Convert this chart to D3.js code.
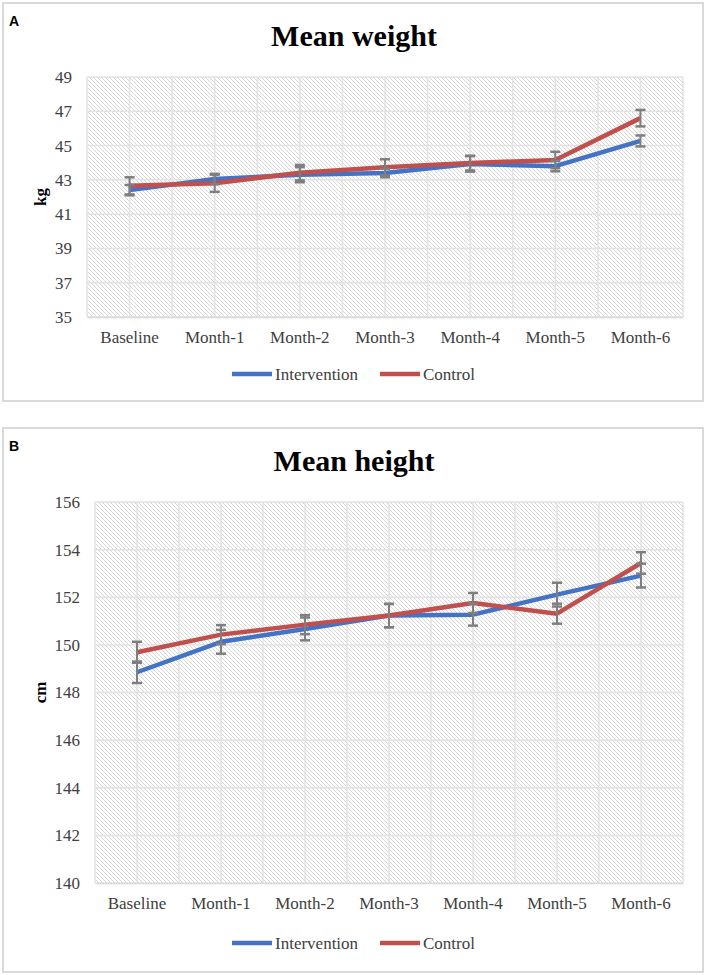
<!DOCTYPE html>
<html><head><meta charset="utf-8">
<script src="https://cdn.jsdelivr.net/npm/d3@7"></script>
<style>body{margin:0;background:#fff}svg{display:block}
.serif{font-family:"Liberation Serif","Times New Roman",serif !important}
</style>
</head><body>
<svg id="chart" width="708" height="975"></svg>
<script>
const categories = ["Baseline","Month-1","Month-2","Month-3","Month-4","Month-5","Month-6"];
const seriesNames = ["Intervention","Control"];
const seriesColors = ["#4472C4","#C0504D"];

const weightIntervention = [42.40, 43.05, 43.30, 43.40, 43.93, 43.80, 45.27];
const weightIntervErr    = [0.30, 0.30, 0.44, 0.25, 0.45, 0.30, 0.32];
const weightControl      = [42.65, 42.80, 43.42, 43.73, 43.98, 44.16, 46.60];
const weightControlErr   = [0.50, 0.50, 0.45, 0.47, 0.43, 0.48, 0.48];
const weightTicks = [35, 37, 39, 41, 43, 45, 47, 49];

const heightIntervention = [148.85, 150.13, 150.67, 151.23, 151.27, 152.11, 152.91];
const heightIntervErr    = [0.45, 0.50, 0.48, 0.49, 0.46, 0.50, 0.50];
const heightControl      = [149.69, 150.43, 150.85, 151.23, 151.76, 151.31, 153.44];
const heightControlErr   = [0.44, 0.40, 0.40, 0.49, 0.42, 0.42, 0.45];
const heightTicks = [140, 142, 144, 146, 148, 150, 152, 154, 156];

const SERIF = '"Liberation Serif","Times New Roman",serif';
const svg = d3.select("#chart");
const defs = svg.append("defs");
const pat = defs.append("pattern").attr("id","hatch").attr("patternUnits","userSpaceOnUse")
  .attr("width",4).attr("height",4);
pat.append("rect").attr("width",4).attr("height",4).attr("fill","#fff");
pat.append("path").attr("d","M-1,-1 L5,5 M-1,3 L1,5 M3,-1 L5,1")
  .attr("stroke","#d6d6d6").attr("stroke-width",1);

function panel(cfg){
  const g = svg.append("g");
  g.append("rect").attr("x",cfg.box[0]).attr("y",cfg.box[1]).attr("width",cfg.box[2]).attr("height",cfg.box[3])
    .attr("fill","#fff").attr("stroke","#d9d9d9").attr("stroke-width",2);
  g.append("text").attr("x",cfg.box[0]+6).attr("y",cfg.box[1]+23).text(cfg.letter)
    .style("font-family",'"Liberation Sans",Arial,sans-serif').attr("font-weight","bold").attr("font-size",14).attr("fill","#000");
  g.append("text").attr("x",354).attr("y",cfg.titleY).attr("text-anchor","middle").text(cfg.title)
    .attr("class","serif").style("font-family",SERIF).attr("font-weight","bold").attr("font-size",30).attr("fill","#000");

  const x = d3.scaleBand().domain(categories).range([cfg.left,cfg.right]).padding(0);
  const y = d3.scaleLinear().domain(cfg.domain).range([cfg.bottom,cfg.top]);
  const cx = c => x(c) + x.bandwidth()/2;

  g.append("rect").attr("x",cfg.left).attr("y",cfg.top).attr("width",cfg.right-cfg.left).attr("height",cfg.bottom-cfg.top)
    .attr("fill","url(#hatch)");

  const vx = [];
  categories.forEach(c => { vx.push(x(c)); vx.push(cx(c)); });
  vx.push(cfg.right);
  g.selectAll(".vg").data(vx).enter().append("line")
    .attr("x1",d=>d).attr("x2",d=>d).attr("y1",cfg.top).attr("y2",cfg.bottom)
    .attr("stroke","#e3e3e3").attr("stroke-width",1.5);
  g.selectAll(".hg").data(cfg.ticks).enter().append("line")
    .attr("x1",cfg.left).attr("x2",cfg.right).attr("y1",d=>y(d)).attr("y2",d=>y(d))
    .attr("stroke","#e3e3e3").attr("stroke-width",1.5);

  const yAxis = g.append("g").attr("transform",`translate(${cfg.left},0)`)
    .call(d3.axisLeft(y).tickValues(cfg.ticks).tickSize(0).tickPadding(15).tickFormat(d3.format("d")));
  yAxis.attr("font-family",null).attr("font-size",null);
  yAxis.select(".domain").remove();
  yAxis.selectAll("text").attr("class","serif").style("font-family",SERIF).style("font-size","17px").attr("fill","#404040");

  const xAxis = g.append("g").attr("transform",`translate(0,${cfg.bottom})`)
    .call(d3.axisBottom(x).tickSize(0).tickPadding(14));
  xAxis.attr("font-family",null).attr("font-size",null);
  xAxis.select(".domain").attr("stroke","#d9d9d9").attr("stroke-width",1.5);
  xAxis.selectAll("text").attr("class","serif").style("font-family",SERIF).style("font-size","17px").attr("fill","#404040");

  g.append("text").attr("transform",`translate(${cfg.axisTitleX},${(cfg.top+cfg.bottom)/2}) rotate(-90)`)
    .attr("text-anchor","middle").attr("dy","0.35em").text(cfg.unit)
    .attr("class","serif").style("font-family",SERIF).attr("font-weight","bold").attr("font-size",17).attr("fill","#000");

  const line = d3.line().x(d=>cx(d.c)).y(d=>y(d.v));
  cfg.series.forEach((s,i) => {
    const data = categories.map((c,j)=>({c, v:s.values[j], e:s.err[j]}));
    g.append("path").datum(data).attr("d",line).attr("fill","none")
      .attr("stroke",seriesColors[i]).attr("stroke-width",4.5).attr("stroke-linejoin","round");
  });
  cfg.series.forEach((s,i) => {
    const data = categories.map((c,j)=>({c, v:s.values[j], e:s.err[j]}));
    const eb = g.append("g");
    data.forEach(d => {
      const X = cx(d.c), y1 = y(d.v+d.e), y2 = y(d.v-d.e);
      eb.append("line").attr("x1",X).attr("x2",X).attr("y1",y1).attr("y2",y2).attr("stroke","#7f7f7f").attr("stroke-width",2);
      [y1,y2].forEach(yy => eb.append("line").attr("x1",X-5).attr("x2",X+5).attr("y1",yy).attr("y2",yy)
        .attr("stroke","#7f7f7f").attr("stroke-width",2.5));
    });
  });

  const lx = [232, 380];
  seriesNames.forEach((n,i) => {
    g.append("line").attr("x1",lx[i]).attr("x2",lx[i]+40).attr("y1",cfg.legendY).attr("y2",cfg.legendY)
      .attr("stroke",seriesColors[i]).attr("stroke-width",4.5);
    g.append("text").attr("x",lx[i]+43).attr("y",cfg.legendY).attr("dy","0.35em").text(n)
      .attr("class","serif").style("font-family",SERIF).style("font-size","17px").attr("fill","#404040");
  });
}

panel({box:[3,3,700,398], letter:"A", title:"Mean weight", titleY:46,
  left:87, right:683, top:77, bottom:317, domain:[35,49], ticks:weightTicks, unit:"kg", axisTitleX:40,
  legendY:374,
  series:[{values:weightIntervention, err:weightIntervErr},{values:weightControl, err:weightControlErr}]});

panel({box:[3,428,700,544], letter:"B", title:"Mean height", titleY:471,
  left:95, right:683, top:502, bottom:883, domain:[140,156], ticks:heightTicks, unit:"cm", axisTitleX:40,
  legendY:943,
  series:[{values:heightIntervention, err:heightIntervErr},{values:heightControl, err:heightControlErr}]});
</script>
</body></html>
